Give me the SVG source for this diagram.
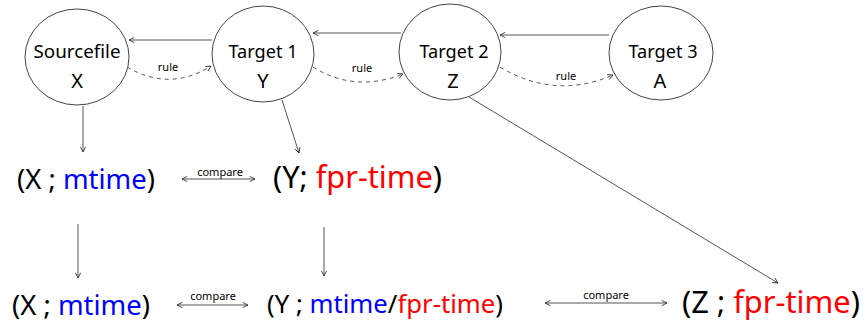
<svg xmlns="http://www.w3.org/2000/svg" width="865" height="326" viewBox="0 0 865 326">
<defs>
<style>
.node ellipse{fill:#fff;stroke:#444;stroke-width:1}
.lbl{font-family:"Noto Sans",sans-serif;font-size:18px;fill:#000;text-anchor:middle}
.let{font-size:20px}
.conn line,.conn path{fill:none;stroke:#555;stroke-width:1}
.dash{stroke-dasharray:4 4}
.small{font-family:"Noto Sans",sans-serif;font-size:11px;fill:#000;text-anchor:middle}
.big{font-family:"Noto Sans",sans-serif;fill:#000}
.b{fill:#0000ff}
.r{fill:#ff0000}
</style>
<marker id="ah" viewBox="0 0 8 8" refX="7" refY="4" markerWidth="7" markerHeight="7" markerUnits="userSpaceOnUse" orient="auto-start-reverse">
<path d="M1,1 L7,4 L1,7" fill="none" stroke="#333" stroke-width="1"/>
</marker>
</defs>
<rect width="865" height="326" fill="#fff"/>
<g id="connectors" class="conn">
<line x1="212" y1="40" x2="129" y2="40" marker-end="url(#ah)"/>
<line x1="401" y1="33" x2="313" y2="33" marker-end="url(#ah)"/>
<line x1="609" y1="35" x2="500" y2="35" marker-end="url(#ah)"/>
<path class="dash" d="M127,67 Q170,92 211,66" marker-end="url(#ah)"/>
<path class="dash" d="M313,67 Q355,93 403,74" marker-end="url(#ah)"/>
<path class="dash" d="M500,67 Q555,100 613,75" marker-end="url(#ah)"/>
<line x1="83" y1="106" x2="83" y2="152" marker-end="url(#ah)"/>
<line x1="282" y1="100" x2="299" y2="153" marker-end="url(#ah)"/>
<line x1="469" y1="97" x2="778" y2="283" marker-end="url(#ah)"/>
<line x1="78" y1="224" x2="78" y2="278" marker-end="url(#ah)"/>
<line x1="324" y1="227" x2="324" y2="276" marker-end="url(#ah)"/>
<line x1="182" y1="179" x2="255" y2="179" marker-start="url(#ah)" marker-end="url(#ah)"/>
<line x1="177" y1="305" x2="248" y2="305" marker-start="url(#ah)" marker-end="url(#ah)"/>
<line x1="545" y1="303" x2="667" y2="303" marker-start="url(#ah)" marker-end="url(#ah)"/>
<text class="small" x="168" y="71">rule</text>
<text class="small" x="362" y="72">rule</text>
<text class="small" x="566" y="80">rule</text>
<text class="small" x="220" y="176">compare</text>
<text class="small" x="213" y="300">compare</text>
<text class="small" x="606" y="299">compare</text>
</g>
<g id="sourcefile" class="node">
<ellipse cx="77" cy="57" rx="52" ry="48"/>
<text class="lbl" x="77" y="58" textLength="87" lengthAdjust="spacingAndGlyphs">Sourcefile</text>
<text class="lbl let" x="77" y="88">X</text>
</g>
<g id="target1" class="node">
<ellipse cx="263" cy="54" rx="51" ry="48"/>
<text class="lbl" x="263" y="58" textLength="69" lengthAdjust="spacingAndGlyphs">Target 1</text>
<text class="lbl let" x="263" y="88">Y</text>
</g>
<g id="target2" class="node">
<ellipse cx="450" cy="52" rx="51" ry="48"/>
<text class="lbl" x="454" y="58" textLength="69" lengthAdjust="spacingAndGlyphs">Target 2</text>
<text class="lbl let" x="453" y="88">Z</text>
</g>
<g id="target3" class="node">
<ellipse cx="661" cy="53" rx="52" ry="47"/>
<text class="lbl" x="663" y="58" textLength="69" lengthAdjust="spacingAndGlyphs">Target 3</text>
<text class="lbl let" x="660" y="88">A</text>
</g>
<g id="x-mtime-1">
<text class="big" x="17" y="189" font-size="27" textLength="138" lengthAdjust="spacingAndGlyphs">(X ; <tspan class="b">mtime</tspan>)</text>
</g>
<g id="y-fpr-1">
<text class="big" x="273" y="188" font-size="30" textLength="169" lengthAdjust="spacingAndGlyphs">(Y; <tspan class="r">fpr-time</tspan>)</text>
</g>
<g id="x-mtime-2">
<text class="big" x="12" y="315" font-size="27" textLength="138" lengthAdjust="spacingAndGlyphs">(X ; <tspan class="b">mtime</tspan>)</text>
</g>
<g id="y-mtime-fpr">
<text class="big" x="267" y="313" font-size="25" textLength="236" lengthAdjust="spacingAndGlyphs">(Y ; <tspan class="b">mtime</tspan>/<tspan class="r">fpr-time</tspan>)</text>
</g>
<g id="z-fpr">
<text class="big" x="682" y="313" font-size="30" textLength="178" lengthAdjust="spacingAndGlyphs">(Z ; <tspan class="r">fpr-time</tspan>)</text>
</g>
</svg>
